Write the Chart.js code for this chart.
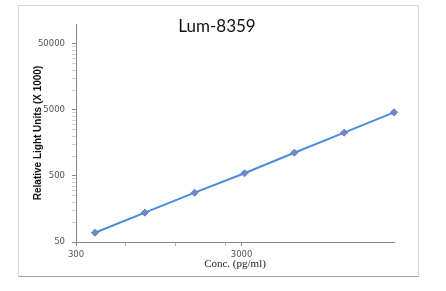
<!DOCTYPE html>
<html>
<head>
<meta charset="utf-8">
<script src="https://cdn.jsdelivr.net/npm/chart.js@4/dist/chart.umd.min.js"></script>
<style>
  html, body { margin: 0; padding: 0; background: #fff; }
  #wrap { position: relative; width: 446px; height: 291px; }
</style>
</head>
<body>
<div id="wrap"><canvas id="c" width="446" height="291"></canvas></div>
<script>
const chartTitle = 'Lum-8359';
const xAxisTitle = 'Conc. (pg/ml)';
const yAxisTitle = 'Relative Light Units (X 1000)';
const concentrations = [390.625, 781.25, 1562.5, 3125, 6250, 12500, 25000];
const rluValues = [69, 139, 279, 549, 1125, 2260, 4600];
const xMajorTicks = [300, 3000];
const xMinorTicks = [600, 1200, 2400];
const yMajorTicks = [50, 500, 5000, 50000];
const yMinorTicks = [100, 150, 200, 250, 300, 350, 400, 450,
                     1000, 1500, 2000, 2500, 3000, 3500, 4000, 4500,
                     10000, 15000, 20000, 25000, 30000, 35000, 40000, 45000];

const framePlugin = {
  id: 'frameAndTitle',
  beforeDraw(chart) {
    const ctx = chart.ctx;
    ctx.save();
    ctx.fillStyle = '#fff';
    ctx.fillRect(0, 0, chart.width, chart.height);
    ctx.lineWidth = 1;
    ctx.strokeStyle = '#d6d6d6';
    ctx.beginPath();
    ctx.moveTo(18.5, 276.5); ctx.lineTo(18.5, 5.5); ctx.lineTo(418.5, 5.5); ctx.lineTo(418.5, 276.5);
    ctx.stroke();
    ctx.strokeStyle = '#a0a0a0';
    ctx.beginPath();
    ctx.moveTo(18.5, 276.5); ctx.lineTo(418.5, 276.5);
    ctx.stroke();
    ctx.restore();
  },
  afterDraw(chart) {
    const ctx = chart.ctx;
    ctx.save();
    ctx.font = '17px Lato';
    ctx.fillStyle = '#111';
    ctx.textAlign = 'center';
    ctx.textBaseline = 'middle';
    ctx.fillText(chartTitle, 217, 27);
    ctx.restore();
  }
};

function setTicks(major, minor) {
  return function (scale) {
    const all = major.concat(minor).filter(v => v >= scale.min && v <= scale.max).sort((a, b) => a - b);
    scale.ticks = all.map(v => ({ value: v, major: major.includes(v) }));
  };
}

new Chart(document.getElementById('c'), {
  type: 'scatter',
  data: {
    datasets: [{
      data: concentrations.map((x, i) => ({ x: x, y: rluValues[i] })),
      showLine: true,
      borderColor: '#4d8cdb',
      borderWidth: 2,
      pointStyle: 'rectRot',
      pointRadius: 3.5,
      pointBackgroundColor: '#7489c6',
      pointBorderColor: '#6479b8',
      pointBorderWidth: 1,
      clip: false
    }]
  },
  options: {
    responsive: false,
    animation: false,
    events: [],
    layout: { padding: { left: 18, right: 52, top: 24, bottom: 20 } },
    plugins: { legend: { display: false }, tooltip: { enabled: false }, title: { display: false } },
    scales: {
      x: {
        type: 'logarithmic',
        min: 300,
        max: 25000,
        afterBuildTicks: setTicks(xMajorTicks, xMinorTicks),
        afterFit(scale) { scale.height = 29; },
        border: { display: true, color: '#8a8a8a', width: 1 },
        grid: {
          drawOnChartArea: false,
          drawTicks: true,
          tickLength: 4,
          color: ctx => (ctx.tick && xMajorTicks.includes(ctx.tick.value)) ? '#8a8a8a' : '#b5b5b5'
        },
        ticks: {
          autoSkip: false,
          maxRotation: 0,
          padding: 4,
          color: '#555',
          font: { family: 'DejaVu Sans', size: 8.5 },
          callback: v => xMajorTicks.includes(v) ? String(v) : ''
        },
        title: {
          display: true,
          text: xAxisTitle,
          color: '#222',
          font: { family: 'Liberation Serif', size: 11 },
          padding: { top: 0, bottom: 0 }
        }
      },
      y: {
        type: 'logarithmic',
        min: 50,
        max: 100000,
        afterBuildTicks: setTicks(yMajorTicks, yMinorTicks),
        afterFit(scale) { scale.width = 58; },
        border: { display: true, color: '#8a8a8a', width: 1 },
        grid: {
          drawOnChartArea: false,
          drawTicks: true,
          tickLength: 4,
          color: ctx => (ctx.tick && yMajorTicks.includes(ctx.tick.value)) ? '#8a8a8a' : '#d0d0d0'
        },
        ticks: {
          autoSkip: false,
          padding: 7,
          color: '#555',
          font: { family: 'DejaVu Sans', size: 8.5 },
          callback: v => yMajorTicks.includes(v) ? String(v) : ''
        },
        title: {
          display: true,
          text: yAxisTitle,
          color: '#111',
          font: { family: 'Liberation Sans', size: 10, weight: 'bold' },
          padding: { top: 14, bottom: 0 }
        }
      }
    }
  },
  plugins: [framePlugin]
});
</script>
</body>
</html>
